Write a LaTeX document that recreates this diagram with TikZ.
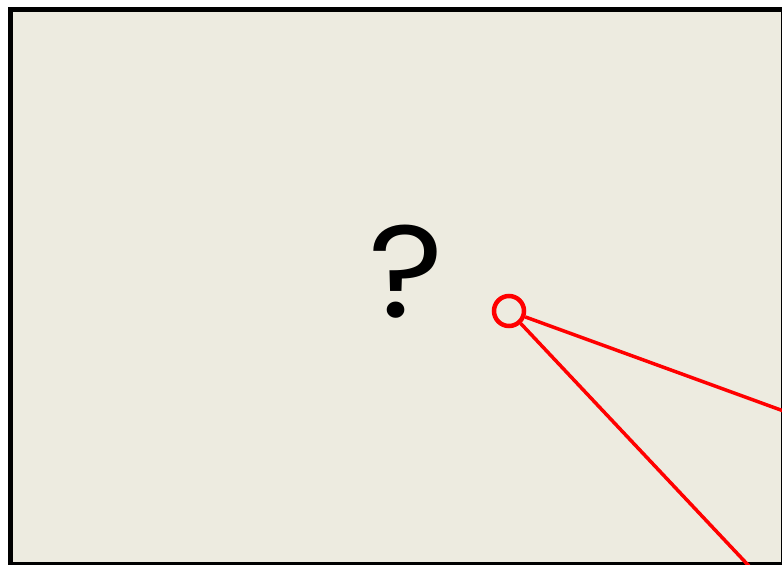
\documentclass[tikz,border=0pt]{standalone}
\usepackage{fontspec}
\newfontfamily\qfont{Poppins}
\definecolor{paper}{RGB}{237,235,224}
\definecolor{pinred}{RGB}{255,0,0}
\tikzset{
  frame/.style={draw=black, line width=5pt, fill=paper},
  pin/.style={circle, draw=pinred, line width=4.5pt, minimum size=30pt, inner sep=0pt},
  pinline/.style={draw=pinred, line width=3.5pt},
}
\begin{document}
\begin{tikzpicture}[x=1pt,y=-1pt]
\useasboundingbox (0,0) rectangle (782,565);
\path[frame] (10.5,9.5) rectangle (783.5,564.5);
\node[font=\qfont\fontsize{131}{131}\selectfont, inner sep=0pt, xscale=1.1] (q) at (406,271.5) {?};
\node[pin] (p) at (509,311) {};
\coordinate (e1) at (800,417);
\coordinate (e2) at (765,583);
\begin{scope}
\clip (0,0) rectangle (782,565);
\draw[pinline] (p) -- (e1);
\draw[pinline] (p) -- (e2);
\end{scope}
\end{tikzpicture}
\end{document}
